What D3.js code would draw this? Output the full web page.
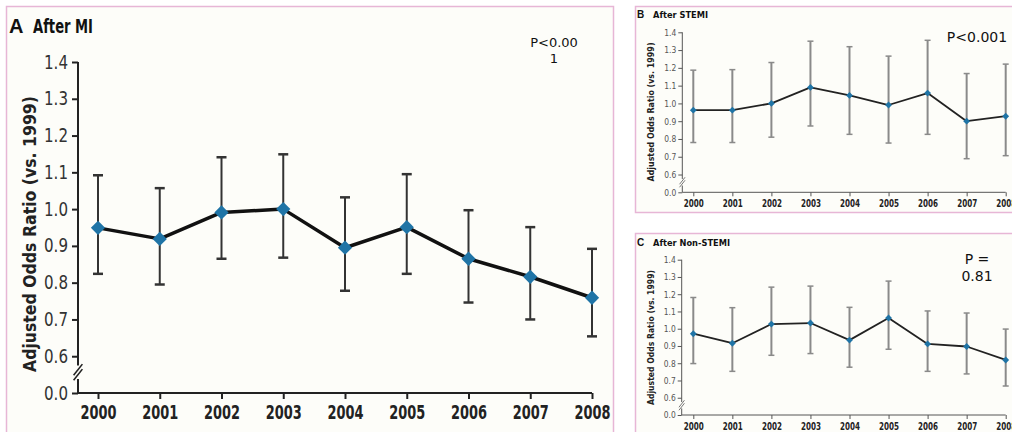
<!DOCTYPE html>
<html><head><meta charset="utf-8">
<script src="https://cdn.jsdelivr.net/npm/d3@7"></script>
<style>
html,body{margin:0;padding:0;background:#fff;}
svg{display:block;}
.cond{font-stretch:condensed;}
</style></head>
<body>
<svg id="chart" width="1012" height="432"></svg>
<script>
// ---- data ----
const years = ["2000","2001","2002","2003","2004","2005","2006","2007","2008"];
const yTicks = [0.5,0.6,0.7,0.8,0.9,1.0,1.1,1.2,1.3,1.4]; // 0.5 slot is shown as "0.0" (broken axis)

const miOR    = [0.949,0.919,0.991,1.000,0.895,0.951,0.865,0.816,0.759];
const miLow   = [0.824,0.795,0.865,0.868,0.778,0.824,0.746,0.700,0.654];
const miHigh  = [1.092,1.057,1.141,1.149,1.032,1.095,0.997,0.951,0.892];

const stemiOR   = [0.962,0.962,1.000,1.090,1.045,0.991,1.058,0.900,0.928];
const stemiLow  = [0.780,0.780,0.810,0.873,0.826,0.777,0.826,0.689,0.706];
const stemiHigh = [1.187,1.190,1.230,1.350,1.319,1.266,1.355,1.168,1.221];

const nstemiOR   = [0.971,0.916,1.027,1.033,0.934,1.062,0.912,0.897,0.819];
const nstemiLow  = [0.798,0.753,0.846,0.856,0.777,0.881,0.753,0.738,0.668];
const nstemiHigh = [1.181,1.122,1.241,1.247,1.124,1.276,1.103,1.091,0.998];

const svg = d3.select("#chart");
const pink = "#e7b6d6";
const bg = "#fdfdf9";

// panel frames
svg.append("rect").attr("x",6.5).attr("y",6.5).attr("width",607).attr("height",440)
  .attr("fill",bg).attr("stroke",pink).attr("stroke-width",1.5);
svg.append("rect").attr("x",635.5).attr("y",6.5).attr("width",400).attr("height",206)
  .attr("fill",bg).attr("stroke",pink).attr("stroke-width",1.5);
svg.append("rect").attr("x",635.5).attr("y",233.5).attr("width",400).attr("height",220)
  .attr("fill",bg).attr("stroke",pink).attr("stroke-width",1.5);

const narrow = "'DejaVu Sans Condensed','DejaVu Sans',sans-serif";

function panel(o){
  const g = svg.append("g");
  const x = d3.scalePoint().domain(years).range([o.x0,o.x1]);
  const y = d3.scaleLinear().domain([0.5,1.4]).range([o.y0,o.y1]);
  const fmt = v => v===0.5 ? "0.0" : d3.format(".1f")(v);

  // y axis
  const ya = g.append("g").attr("transform",`translate(${o.ax},0)`)
    .call(d3.axisLeft(y).tickValues(yTicks).tickFormat(fmt).tickSize(o.tick).tickPadding(o.pad));
  ya.select(".domain").remove();
  ya.selectAll("line").attr("stroke",o.axisCol).attr("stroke-width",o.axW);
  ya.selectAll("text").attr("fill",o.tickCol).attr("class","cond").style("font-family",narrow)
    .style("font-size",o.tickSize+"px").attr("textLength",o.tickLen).attr("lengthAdjust","spacingAndGlyphs");
  // broken y axis line
  const yb1 = y(0.6) + (y(0.5)-y(0.6))*0.25, yb2 = y(0.6) + (y(0.5)-y(0.6))*0.62;
  g.append("line").attr("x1",o.ax).attr("x2",o.ax).attr("y1",y(1.4)).attr("y2",yb1)
    .attr("stroke",o.axisCol).attr("stroke-width",o.axW);
  g.append("line").attr("x1",o.ax).attr("x2",o.ax).attr("y1",yb2).attr("y2",y(0.5))
    .attr("stroke",o.axisCol).attr("stroke-width",o.axW);
  const bw = o.brk, gapd = o.brkGap;
  [-gapd/2, gapd/2].forEach(dy=>{
    const cy = (yb1+yb2)/2 + dy;
    g.append("line").attr("x1",o.ax-bw*0.55).attr("y1",cy+bw*0.7)
      .attr("x2",o.ax+bw*0.55).attr("y2",cy-bw*0.7)
      .attr("stroke",o.axisCol).attr("stroke-width",o.axW*0.8);
  });

  // x axis
  const xa = g.append("g").attr("transform",`translate(0,${y(0.5)})`)
    .call(d3.axisBottom(x).tickSize(o.tick).tickPadding(o.xpad).tickSizeOuter(0));
  xa.select(".domain").remove();
  g.append("line").attr("x1",o.ax).attr("x2",o.x1).attr("y1",y(0.5)).attr("y2",y(0.5))
    .attr("stroke",o.axisCol).attr("stroke-width",o.axW);
  xa.selectAll("line").attr("stroke",o.axisCol).attr("stroke-width",o.axW);
  xa.selectAll("text").attr("fill","#222").attr("class","cond").style("font-family",narrow)
    .style("font-size",o.yearSize+"px").style("font-weight","bold")
    .attr("textLength",o.yearLen).attr("lengthAdjust","spacingAndGlyphs");

  // error bars
  const eb = g.append("g");
  years.forEach((yr,i)=>{
    const cx = x(yr);
    eb.append("line").attr("x1",cx).attr("x2",cx).attr("y1",y(o.low[i])).attr("y2",y(o.high[i]))
      .attr("stroke",o.errCol).attr("stroke-width",o.errW);
    [o.low[i],o.high[i]].forEach(v=>{
      eb.append("line").attr("x1",cx-o.cap).attr("x2",cx+o.cap).attr("y1",y(v)).attr("y2",y(v))
        .attr("stroke",o.errCol).attr("stroke-width",o.capW);
    });
  });
  // line
  g.append("path").datum(o.val)
    .attr("d", d3.line().x((d,i)=>x(years[i])).y(d=>y(d)))
    .attr("fill","none").attr("stroke",o.lineCol).attr("stroke-width",o.lineW)
    .attr("stroke-linejoin","round");
  // markers
  g.selectAll(".mk").data(o.val).enter().append("path")
    .attr("transform",(d,i)=>`translate(${x(years[i])},${y(d)})`)
    .attr("d", d3.symbol().type(d3.symbolDiamond2).size(o.mk))
    .attr("fill","#1f74a6");

  // y label
  g.append("text").attr("transform",`translate(${o.ylx},${o.yly}) rotate(-90)`)
    .attr("text-anchor","middle").attr("fill","#222")
    .style("font-family",o.ylFont).style("font-size",o.ylSize+"px").style("font-weight","bold")
    .attr("textLength",o.ylLen).attr("lengthAdjust","spacingAndGlyphs")
    .text("Adjusted Odds Ratio (vs. 1999)");
  // title
  g.append("text").attr("x",o.tx).attr("y",o.ty).attr("fill","#111")
    .style("font-family","Liberation Sans, Arial, sans-serif").style("font-weight","bold")
    .style("font-size",o.letterSize+"px").text(o.letter);
  g.append("text").attr("x",o.tx2).attr("y",o.ty).attr("fill","#111").attr("class","cond")
    .style("font-family",narrow).style("font-weight","bold")
    .style("font-size",o.titleSize+"px")
    .attr("textLength",o.titleLen).attr("lengthAdjust","spacingAndGlyphs").text(o.title);
  // p value
  o.p.forEach((t,i)=>{
    g.append("text").attr("x",o.px).attr("y",o.py+i*o.pdy).attr("text-anchor","middle")
      .attr("fill","#111").style("font-family","DejaVu Sans, sans-serif")
      .style("font-size",o.pSize+"px").text(t);
  });
}

panel({x0:98,x1:592,y0:393,y1:62,ax:78,tick:6,pad:4,xpad:6,axW:2,axisCol:"#222",
  tickCol:"#333",tickSize:19,tickLen:24,yearSize:20,yearLen:36,
  brk:8,brkGap:5,
  low:miLow,high:miHigh,val:miOR,errCol:"#333",errW:2,cap:5,capW:2.5,lineCol:"#111",lineW:3.5,mk:130,
  ylx:36,yly:234,ylFont:"DejaVu Sans, sans-serif",ylSize:17,ylLen:276,
  letter:"A",letterSize:20,tx:9,ty:33,tx2:33,title:"After MI",titleSize:19,titleLen:60,
  p:["P<0.00","1"],px:554,py:47,pdy:16,pSize:13});

panel({x0:693.3,x1:1005.7,y0:192.3,y1:32.3,ax:682.3,tick:4,pad:2,xpad:4,axW:1,axisCol:"#555",
  tickCol:"#555",tickSize:9,tickLen:12,yearSize:10,yearLen:20,
  brk:5,brkGap:3,
  low:stemiLow,high:stemiHigh,val:stemiOR,errCol:"#8a8a8a",errW:2,cap:3,capW:1.5,lineCol:"#222",lineW:1.8,mk:30,
  ylx:654,yly:112,ylFont:narrow,ylSize:9.5,ylLen:139,
  letter:"B",letterSize:10,tx:637,ty:18,tx2:653,title:"After STEMI",titleSize:9,titleLen:55,
  p:["P<0.001"],px:977,py:42,pdy:18,pSize:14});

panel({x0:693.3,x1:1005.7,y0:415,y1:259.7,ax:681.7,tick:4,pad:2,xpad:4,axW:1,axisCol:"#555",
  tickCol:"#555",tickSize:9,tickLen:12,yearSize:10,yearLen:20,
  brk:5,brkGap:3,
  low:nstemiLow,high:nstemiHigh,val:nstemiOR,errCol:"#8a8a8a",errW:2,cap:3,capW:1.5,lineCol:"#222",lineW:1.8,mk:30,
  ylx:654,yly:337.5,ylFont:narrow,ylSize:9.5,ylLen:135,
  letter:"C",letterSize:10,tx:637,ty:246,tx2:653,title:"After Non-STEMI",titleSize:9,titleLen:77,
  p:["P =","0.81"],px:977,py:264,pdy:17,pSize:14});
</script>
</body></html>
